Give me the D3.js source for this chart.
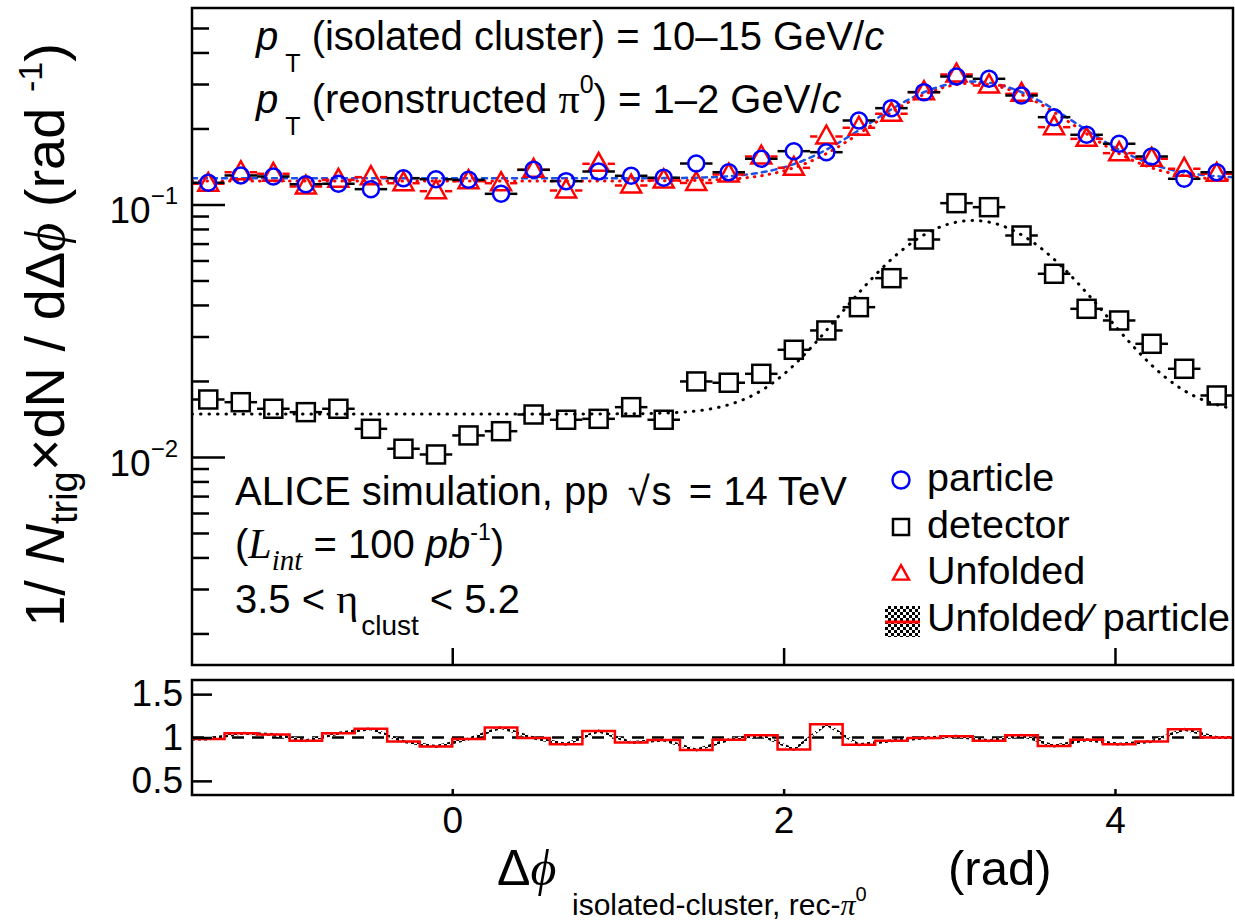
<!DOCTYPE html>
<html>
<head>
<meta charset="utf-8">
<script src="https://cdnjs.cloudflare.com/ajax/libs/d3/7.8.5/d3.min.js"></script>
<style>
  body { margin: 0; background: #fff; }
  svg { font-family: "Liberation Sans", Arial, Helvetica, sans-serif; }
</style>
</head>
<body>
<script>
// Canvas size, same as the reference picture.
var width = 1235,
    height = 924;

// Binning: 32 bins over [-pi/2, 3pi/2].
var nBins = 32;
var phiMin = -Math.PI / 2,
    phiMax = 3 * Math.PI / 2;

// Per-bin yields (1/Ntrig dN/dphi).
var particle = [0.1219, 0.1303, 0.1291, 0.1203, 0.1208, 0.1150, 0.1271, 0.1259,
                0.1252, 0.1102, 0.1372, 0.1237, 0.1351, 0.1299, 0.1276, 0.1453,
                0.1342, 0.1517, 0.1626, 0.1611, 0.2151, 0.2407, 0.2785, 0.3212,
                0.3146, 0.2702, 0.2217, 0.1888, 0.1740, 0.1549, 0.1264, 0.1342];

var unfolded = [0.1208, 0.1342, 0.1323, 0.1178, 0.1252, 0.1283, 0.1214, 0.1129,
                0.1237, 0.1214, 0.1372, 0.1136, 0.1449, 0.1189, 0.1245, 0.1217,
                0.1315, 0.1549, 0.1397, 0.1859, 0.2013, 0.2287, 0.2785, 0.3272,
                0.2960, 0.2744, 0.2024, 0.1820, 0.1597, 0.1517, 0.1385, 0.1323];

var detector = [0.01689, 0.01648, 0.01552, 0.01505, 0.01552, 0.01293, 0.01078, 0.01023,
                0.01217, 0.01265, 0.01473, 0.01404, 0.01416, 0.01575, 0.01404, 0.01991,
                0.01968, 0.02135, 0.02658, 0.03170, 0.03920, 0.05107, 0.07265, 0.1012,
                0.09757, 0.07536, 0.05316, 0.03862, 0.03472, 0.02807, 0.02235, 0.01752];

// Unfolded / particle, as drawn in the bottom panel.
var ratio = [0.982, 1.050, 1.035, 0.963, 1.050, 1.100, 0.955, 0.895,
             0.982, 1.114, 0.994, 0.922, 1.074, 0.943, 0.970, 0.855,
             0.975, 1.026, 0.862, 1.154, 0.915, 0.963, 0.994, 1.014,
             0.963, 1.026, 0.903, 0.975, 0.922, 0.955, 1.094, 1.000];

// Fit curves: [constant, amplitude, mean, sigma] of const + gaussian.
var fitParticle = [0.127, 0.180, Math.PI, 0.50];
var fitUnfolded = [0.124, 0.178, Math.PI, 0.49];
var fitDetector = [0.0148, 0.0716, Math.PI, 0.52];

var xTicks = [0, 2, 4];
var xTickLabels = ['0', '2', '4'];
var yMajorTicks = [0.01, 0.1];
var yMinorTicks = [0.002, 0.003, 0.004, 0.005, 0.006, 0.007, 0.008, 0.009,
                   0.02, 0.03, 0.04, 0.05, 0.06, 0.07, 0.08, 0.09,
                   0.2, 0.3, 0.4, 0.5];
var yMajorExp = ['\u22122', '\u22121'];
var ratioTicks = [0.5, 1, 1.5];
var ratioTickLabels = ['0.5', '1', '1.5'];

// Bin edges and centres.
var edges = d3.range(nBins + 1).map(function(i) { return phiMin + i * (phiMax - phiMin) / nBins; });
var centers = d3.range(nBins).map(function(i) { return (edges[i] + edges[i + 1]) / 2; });

// Panel geometry.
var left = 192, right = 1233;
var topY0 = 8, topY1 = 665;
var botY0 = 680, botY1 = 795;

var x = d3.scaleLinear().domain([phiMin, phiMax]).range([left, right]);
var y = d3.scaleLog().domain([0.0015, 0.6]).range([topY1, topY0]);
var yr = d3.scaleLinear().domain([0.337, 1.663]).range([botY1, botY0]);

var svg = d3.select('body')
  .append('svg')
  .attr('width', width)
  .attr('height', height);

// Checker pattern for the ratio band.
var pat = svg.append('defs').append('pattern')
  .attr('id', 'checker')
  .attr('width', 6).attr('height', 6)
  .attr('patternUnits', 'userSpaceOnUse');
pat.append('rect').attr('width', 6).attr('height', 6).attr('fill', '#fff');
pat.append('rect').attr('width', 3).attr('height', 3).attr('fill', '#000');
pat.append('rect').attr('x', 3).attr('y', 3).attr('width', 3).attr('height', 3).attr('fill', '#000');

svg.append('clipPath').attr('id', 'clipTop')
  .append('rect').attr('x', left).attr('y', topY0).attr('width', right - left).attr('height', topY1 - topY0);
svg.append('clipPath').attr('id', 'clipBot')
  .append('rect').attr('x', left).attr('y', botY0).attr('width', right - left).attr('height', botY1 - botY0);

// helper for ROOT-like rich labels with sub/superscripts
function rich(sel, px, py, parts, size, anchor, rotate) {
  var t = sel.append('text')
    .attr('x', px).attr('y', py)
    .attr('font-size', size)
    .attr('text-anchor', anchor || 'start');
  if (rotate) t.attr('transform', 'rotate(' + rotate + ',' + px + ',' + py + ')');
  var cur = 0;
  parts.forEach(function(p) {
    var s = p.shift || 0;
    var ts = t.append('tspan').attr('dy', s - cur).text(p.t);
    cur = s;
    if (p.size) ts.attr('font-size', p.size);
    if (p.italic) ts.attr('font-style', 'italic');
    if (p.family) ts.attr('font-family', p.family);
    if (p.dx) ts.attr('dx', p.dx);
  });
  return t;
}

function gaus(p) {
  return function(v) {
    return p[0] + p[1] * Math.exp(-(v - p[2]) * (v - p[2]) / (2 * p[3] * p[3]));
  };
}

// ---------- top panel ----------
var topG = svg.append('g');
var plot = topG.append('g').attr('clip-path', 'url(#clipTop)');

var fine = d3.range(0, 401).map(function(i) { return phiMin + i * (phiMax - phiMin) / 400; });

function drawFit(p, color, dash, w) {
  var f = gaus(p);
  plot.append('path')
    .datum(fine)
    .attr('fill', 'none')
    .attr('stroke', color)
    .attr('stroke-width', w)
    .attr('stroke-dasharray', dash)
    .attr('stroke-linecap', 'round')
    .attr('d', d3.line().x(function(d) { return x(d); }).y(function(d) { return y(f(d)); }));
}

drawFit(fitDetector, '#000', '0.5,8', 3);
drawFit(fitUnfolded, '#ff0000', '0.5,7', 3);
drawFit(fitParticle, '#1f50e6', '5,5', 2.5);

// horizontal bin-width bars with a gap for the marker
function xBars(values, color, gap) {
  var g = plot.append('g').attr('stroke', color).attr('stroke-width', 2.5);
  values.forEach(function(v, i) {
    var cx = x(centers[i]), cy = y(v);
    g.append('line').attr('x1', x(edges[i])).attr('x2', cx - gap).attr('y1', cy).attr('y2', cy);
    g.append('line').attr('x1', cx + gap).attr('x2', x(edges[i + 1])).attr('y1', cy).attr('y2', cy);
  });
}

// detector: open squares
xBars(detector, '#000', 9);
plot.append('g').selectAll('rect')
  .data(detector)
  .enter().append('rect')
  .attr('x', function(d, i) { return x(centers[i]) - 9; })
  .attr('y', function(d) { return y(d) - 9; })
  .attr('width', 18).attr('height', 18)
  .attr('fill', 'none').attr('stroke', '#000').attr('stroke-width', 2.5);

// unfolded: open triangles
var triPath = 'M0,-11L10,7L-10,7Z';
xBars(unfolded, '#ff0000', 9);
plot.append('g').selectAll('path')
  .data(unfolded)
  .enter().append('path')
  .attr('d', triPath)
  .attr('transform', function(d, i) { return 'translate(' + x(centers[i]) + ',' + y(d) + ')'; })
  .attr('fill', 'none').attr('stroke', '#ff0000').attr('stroke-width', 2.5);

// particle: open circles
xBars(particle, '#000', 8);
plot.append('g').selectAll('circle')
  .data(particle)
  .enter().append('circle')
  .attr('cx', function(d, i) { return x(centers[i]); })
  .attr('cy', function(d) { return y(d); })
  .attr('r', 8)
  .attr('fill', 'none').attr('stroke', '#0000ff').attr('stroke-width', 2.5);

// axes of the top panel (ticks point into the frame)
topG.append('g')
  .attr('transform', 'translate(' + left + ',0)')
  .call(d3.axisLeft(y).tickValues(yMajorTicks).tickSize(-33).tickFormat(''))
  .call(function(g) { g.select('.domain').remove(); g.selectAll('line').attr('stroke-width', 2.5); });
topG.append('g')
  .attr('transform', 'translate(' + left + ',0)')
  .call(d3.axisLeft(y).tickValues(yMinorTicks).tickSize(-17).tickFormat(''))
  .call(function(g) { g.select('.domain').remove(); g.selectAll('line').attr('stroke-width', 2.5); });
topG.append('g')
  .attr('transform', 'translate(0,' + topY1 + ')')
  .call(d3.axisBottom(x).tickValues(xTicks).tickSize(-17).tickFormat(''))
  .call(function(g) { g.select('.domain').remove(); g.selectAll('line').attr('stroke-width', 2.5); });

yMajorTicks.forEach(function(v, i) {
  rich(topG, 178, y(v) + 19, [
    { t: '10' },
    { t: yMajorExp[i], size: 24, shift: -19 }
  ], 37, 'end');
});

topG.append('rect')
  .attr('x', left).attr('y', topY0)
  .attr('width', right - left).attr('height', topY1 - topY0)
  .attr('fill', 'none').attr('stroke', '#000').attr('stroke-width', 2.5);

// ---------- bottom panel ----------
var bot = svg.append('g');
var bplot = bot.append('g').attr('clip-path', 'url(#clipBot)');

bplot.append('line')
  .attr('x1', left).attr('x2', right)
  .attr('y1', yr(1)).attr('y2', yr(1))
  .attr('stroke', '#000').attr('stroke-width', 2.5)
  .attr('stroke-dasharray', '12,8');

// checkered error band joining the bin centres
var bandPts = [phiMin].concat(centers, [phiMax]);
var bandVals = [ratio[0]].concat(ratio, [ratio[nBins - 1]]);
bplot.append('path')
  .datum(d3.range(bandPts.length))
  .attr('fill', 'url(#checker)')
  .attr('stroke', 'none')
  .attr('d', d3.area()
    .x(function(i) { return x(bandPts[i]); })
    .y0(function(i) { return yr(bandVals[i]) - 1.5; })
    .y1(function(i) { return yr(bandVals[i]) + 1.5; }));

// red step histogram of the ratio
var stepPts = [];
ratio.forEach(function(v, i) {
  stepPts.push([edges[i], v]);
  stepPts.push([edges[i + 1], v]);
});
bplot.append('path')
  .datum(stepPts)
  .attr('fill', 'none')
  .attr('stroke', '#ff0000')
  .attr('stroke-width', 2.5)
  .attr('d', d3.line().x(function(d) { return x(d[0]); }).y(function(d) { return yr(d[1]); }));

bot.append('g')
  .attr('transform', 'translate(' + left + ',0)')
  .call(d3.axisLeft(yr).tickValues(ratioTicks).tickSize(-20).tickPadding(9)
    .tickFormat(function(d, i) { return ratioTickLabels[i]; }))
  .call(function(g) {
    g.select('.domain').remove();
    g.selectAll('line').attr('stroke-width', 2.5);
    g.selectAll('text').attr('font-size', 37).attr('font-family', null).attr('fill', '#000');
  });

bot.append('g')
  .attr('transform', 'translate(0,' + botY1 + ')')
  .call(d3.axisBottom(x).tickValues(xTicks).tickSize(-6).tickPadding(12)
    .tickFormat(function(d, i) { return xTickLabels[i]; }))
  .call(function(g) {
    g.select('.domain').remove();
    g.selectAll('line').attr('stroke-width', 2.5);
    g.selectAll('text').attr('font-size', 37).attr('font-family', null).attr('fill', '#000');
  });

bot.append('rect')
  .attr('x', left).attr('y', botY0)
  .attr('width', right - left).attr('height', botY1 - botY0)
  .attr('fill', 'none').attr('stroke', '#000').attr('stroke-width', 2.5);

// ---------- text ----------
var serif = '"Liberation Serif", "Times New Roman", serif';

rich(svg, 256, 50, [
  { t: 'p', italic: true },
  { t: 'T', size: 25, shift: 22, dx: 7 },
  { t: ' (isolated cluster) = 10\u201315 GeV/', shift: 0 },
  { t: 'c', italic: true }
], 40);

rich(svg, 256, 113, [
  { t: 'p', italic: true },
  { t: 'T', size: 25, shift: 22, dx: 7 },
  { t: ' (reonstructed ', shift: 0 },
  { t: '\u03c0', family: serif, size: 42 },
  { t: '0', size: 25, shift: -20 },
  { t: ') = 1\u20132 GeV/', shift: 0 },
  { t: 'c', italic: true }
], 40);

rich(svg, 235, 505, [
  { t: 'ALICE simulation, pp ' },
  { t: '\u221A', dx: 8 },
  { t: 's', dx: 2 },
  { t: ' = 14 TeV', dx: 6 }
], 40);

rich(svg, 235, 558, [
  { t: '(' },
  { t: 'L', italic: true, family: serif, size: 42 },
  { t: 'int', italic: true, family: serif, size: 29, shift: 12 },
  { t: ' = 100 ', shift: 0 },
  { t: 'pb', italic: true },
  { t: '-1', size: 23, shift: -18 },
  { t: ')', shift: 0 }
], 40);

rich(svg, 235, 613, [
  { t: '3.5 < ' },
  { t: '\u03b7', family: serif, size: 42 },
  { t: 'clust', size: 28, shift: 22, dx: 3 },
  { t: ' < 5.2', shift: 0 }
], 40);

// legend
var legend = svg.append('g');
var legendLabels = ['particle', 'detector', 'Unfolded', 'Unfolded\u2044 particle'];
var legendY = [480, 527, 573, 620];
legendLabels.forEach(function(s, i) {
  legend.append('text')
    .attr('x', 927).attr('y', legendY[i] + 11)
    .attr('font-size', 39.5)
    .text(s);
});
legend.append('circle').attr('cx', 901).attr('cy', legendY[0]).attr('r', 8.5)
  .attr('fill', 'none').attr('stroke', '#0000ff').attr('stroke-width', 2.5);
legend.append('rect').attr('x', 893).attr('y', legendY[1] - 8).attr('width', 16).attr('height', 16)
  .attr('fill', 'none').attr('stroke', '#000').attr('stroke-width', 2.5);
legend.append('path').attr('d', triPath)
  .attr('transform', 'translate(901,' + (legendY[2] + 1) + ') scale(0.8)')
  .attr('fill', 'none').attr('stroke', '#ff0000').attr('stroke-width', 3);
legend.append('rect').attr('x', 885).attr('y', legendY[3] - 14).attr('width', 35).attr('height', 31)
  .attr('fill', 'url(#checker)');
legend.append('line').attr('x1', 885).attr('x2', 920)
  .attr('y1', legendY[3] + 2).attr('y2', legendY[3] + 2)
  .attr('stroke', '#ff0000').attr('stroke-width', 3);

// axis titles
rich(svg, 64, 335, [
  { t: '1/ ' },
  { t: 'N', italic: true },
  { t: 'trig', size: 38, shift: 13 },
  { t: '\u00d7dN / d\u0394', shift: 0 },
  { t: '\u03d5', italic: true, family: serif },
  { t: ' (rad ' },
  { t: '-1', size: 34, shift: -22 },
  { t: ')', shift: 0 }
], 56, 'middle', -90);

rich(svg, 497, 885, [
  { t: '\u0394' },
  { t: '\u03d5', italic: true, family: serif }
], 50);

rich(svg, 572, 915, [
  { t: 'isolated-cluster, rec-' },
  { t: '\u03c0', family: serif, italic: true },
  { t: '0', size: 20, shift: -14 }
], 30);

svg.append('text')
  .attr('x', 948).attr('y', 885)
  .attr('font-size', 49)
  .text('(rad)');
</script>
</body>
</html>
